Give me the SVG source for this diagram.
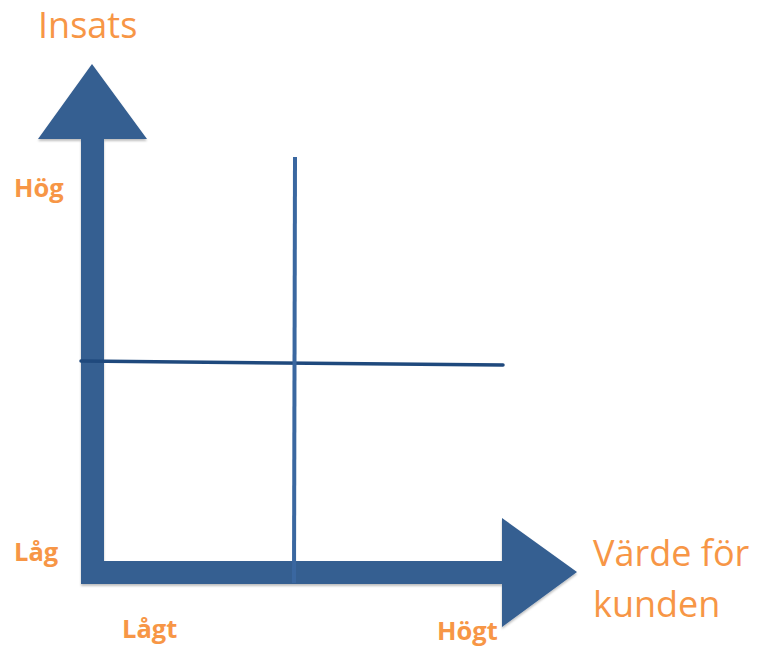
<svg xmlns="http://www.w3.org/2000/svg" width="758" height="646" viewBox="0 0 758 646">
  <style>
    .axis { fill: #365f91; }
    .big { font-family: "Open Sans", "Liberation Sans", sans-serif; font-size: 36px; fill: #f79646; }
    .lbl { font-family: "Open Sans", "Liberation Sans", sans-serif; font-size: 25.5px; font-weight: bold; fill: #f79646; }
  </style>
  <defs>
    <filter id="sh" x="-10%" y="-10%" width="120%" height="120%">
      <feDropShadow dx="0" dy="2" stdDeviation="1.2" flood-color="#000" flood-opacity="0.25"/>
    </filter>
  </defs>
  <rect width="758" height="646" fill="#ffffff"/>
  <g id="axes">
    <path class="axis" filter="url(#sh)" d="M92,64 L147,139 L104,139 L104,561 L502,561 L502,518 L577,572 L502,627 L502,584 L81,584 L81,139 L38,139 Z"/>
  </g>
  <g id="connectors">
    <line x1="81" y1="361" x2="503" y2="365" stroke="#1f497d" stroke-width="3.5" stroke-linecap="round"/>
    <line x1="295" y1="157" x2="294" y2="583" stroke="#3a67a0" stroke-width="4"/>
  </g>
  <g id="title-y"><text class="big" x="38" y="38">Insats</text></g>
  <g id="title-x">
    <text class="big" x="593" y="566">Värde för</text>
    <text class="big" x="593" y="617">kunden</text>
  </g>
  <g id="label-hog"><text class="lbl" x="14" y="197">Hög</text></g>
  <g id="label-lag"><text class="lbl" x="14" y="561">Låg</text></g>
  <g id="label-lagt"><text class="lbl" x="122" y="638">Lågt</text></g>
  <g id="label-hogt"><text class="lbl" x="437" y="640">Högt</text></g>
</svg>
